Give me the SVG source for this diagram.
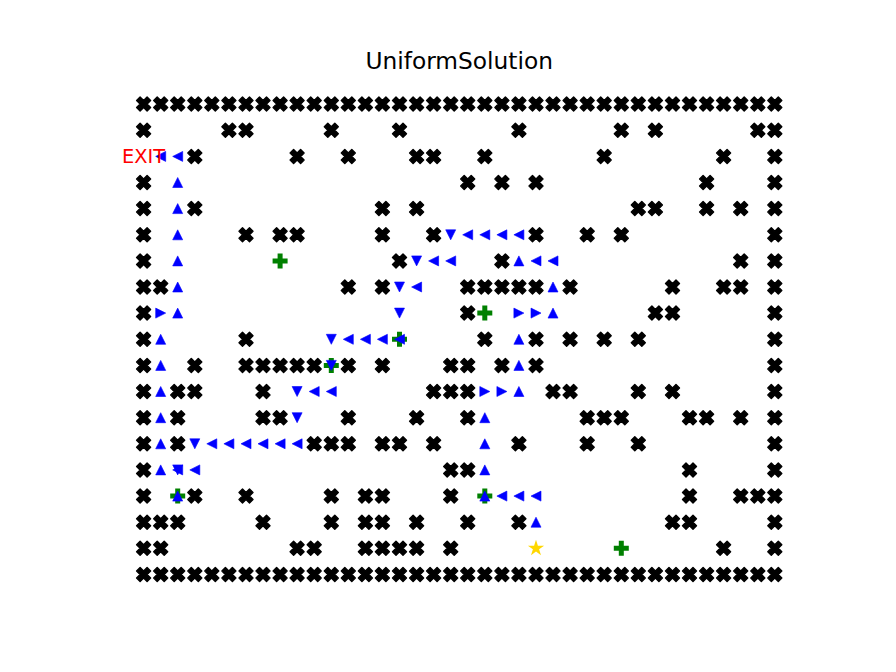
<svg xmlns="http://www.w3.org/2000/svg" xmlns:xlink="http://www.w3.org/1999/xlink" width="896" height="672" viewBox="0 0 896 672">
<style>
.title{font-family:"DejaVu Sans","Liberation Sans",sans-serif;font-size:23.3px;fill:#000;text-anchor:middle}
.exit{font-family:"DejaVu Sans","Liberation Sans",sans-serif;font-size:19.4px;fill:#ff0000;text-anchor:middle}
.wall{fill:#000;stroke:#000;stroke-width:1.4;stroke-linejoin:round}
.arrow{fill:#0000ff;stroke:#0000ff;stroke-width:0.6;stroke-linejoin:miter}
.plus{fill:#008000}
.star{fill:#ffd700}
</style>
<defs>
<path id="w" class="wall" d="M-3.5,-7 L0,-3.5 L3.5,-7 L7,-3.5 L3.5,0 L7,3.5 L3.5,7 L0,3.5 L-3.5,7 L-7,3.5 L-3.5,0 L-7,-3.5 Z"/>
<path id="u" class="arrow" d="M0,-5 L5,5 L-5,5 Z"/>
<path id="d" class="arrow" d="M0,5 L5,-5 L-5,-5 Z"/>
<path id="l" class="arrow" d="M-5,0 L5,-5 L5,5 Z"/>
<path id="r" class="arrow" d="M5,0 L-5,-5 L-5,5 Z"/>
<path id="p" class="plus" d="M-2.5,-7.5 L2.5,-7.5 L2.5,-2.5 L7.5,-2.5 L7.5,2.5 L2.5,2.5 L2.5,7.5 L-2.5,7.5 L-2.5,2.5 L-7.5,2.5 L-7.5,-2.5 L-2.5,-2.5 Z"/>
<path id="s" class="star" d="M0,-8.5 L1.91,-2.63 L8.08,-2.63 L3.09,1.0 L5.0,6.88 L0,3.25 L-5.0,6.88 L-3.09,1.0 L-8.08,-2.63 L-1.91,-2.63 Z"/>
</defs>
<rect width="896" height="672" fill="#ffffff"/>
<text class="title" x="459.2" y="69">UniformSolution</text>
<g id="walls">
<g id="row0">
<use href="#w" x="143.6" y="104.1"/><use href="#w" x="160.7" y="104.1"/><use href="#w" x="177.7" y="104.1"/><use href="#w" x="194.8" y="104.1"/><use href="#w" x="211.8" y="104.1"/><use href="#w" x="228.9" y="104.1"/><use href="#w" x="246.0" y="104.1"/><use href="#w" x="263.0" y="104.1"/><use href="#w" x="280.1" y="104.1"/><use href="#w" x="297.1" y="104.1"/><use href="#w" x="314.2" y="104.1"/><use href="#w" x="331.3" y="104.1"/><use href="#w" x="348.3" y="104.1"/><use href="#w" x="365.4" y="104.1"/><use href="#w" x="382.4" y="104.1"/><use href="#w" x="399.5" y="104.1"/><use href="#w" x="416.6" y="104.1"/><use href="#w" x="433.6" y="104.1"/><use href="#w" x="450.7" y="104.1"/><use href="#w" x="467.7" y="104.1"/><use href="#w" x="484.8" y="104.1"/><use href="#w" x="501.9" y="104.1"/><use href="#w" x="518.9" y="104.1"/><use href="#w" x="536.0" y="104.1"/><use href="#w" x="553.0" y="104.1"/><use href="#w" x="570.1" y="104.1"/><use href="#w" x="587.2" y="104.1"/><use href="#w" x="604.2" y="104.1"/><use href="#w" x="621.3" y="104.1"/><use href="#w" x="638.3" y="104.1"/><use href="#w" x="655.4" y="104.1"/><use href="#w" x="672.5" y="104.1"/><use href="#w" x="689.5" y="104.1"/><use href="#w" x="706.6" y="104.1"/><use href="#w" x="723.6" y="104.1"/><use href="#w" x="740.7" y="104.1"/><use href="#w" x="757.8" y="104.1"/><use href="#w" x="774.8" y="104.1"/>
</g>
<g id="row1">
<use href="#w" x="143.6" y="130.2"/><use href="#w" x="228.9" y="130.2"/><use href="#w" x="246.0" y="130.2"/><use href="#w" x="331.3" y="130.2"/><use href="#w" x="399.5" y="130.2"/><use href="#w" x="518.9" y="130.2"/><use href="#w" x="621.3" y="130.2"/><use href="#w" x="655.4" y="130.2"/><use href="#w" x="757.8" y="130.2"/><use href="#w" x="774.8" y="130.2"/>
</g>
<g id="row2">
<use href="#w" x="194.8" y="156.4"/><use href="#w" x="297.1" y="156.4"/><use href="#w" x="348.3" y="156.4"/><use href="#w" x="416.6" y="156.4"/><use href="#w" x="433.6" y="156.4"/><use href="#w" x="484.8" y="156.4"/><use href="#w" x="604.2" y="156.4"/><use href="#w" x="723.6" y="156.4"/><use href="#w" x="774.8" y="156.4"/>
</g>
<g id="row3">
<use href="#w" x="143.6" y="182.5"/><use href="#w" x="467.7" y="182.5"/><use href="#w" x="501.9" y="182.5"/><use href="#w" x="536.0" y="182.5"/><use href="#w" x="706.6" y="182.5"/><use href="#w" x="774.8" y="182.5"/>
</g>
<g id="row4">
<use href="#w" x="143.6" y="208.6"/><use href="#w" x="194.8" y="208.6"/><use href="#w" x="382.4" y="208.6"/><use href="#w" x="416.6" y="208.6"/><use href="#w" x="638.3" y="208.6"/><use href="#w" x="655.4" y="208.6"/><use href="#w" x="706.6" y="208.6"/><use href="#w" x="740.7" y="208.6"/><use href="#w" x="774.8" y="208.6"/>
</g>
<g id="row5">
<use href="#w" x="143.6" y="234.8"/><use href="#w" x="246.0" y="234.8"/><use href="#w" x="280.1" y="234.8"/><use href="#w" x="297.1" y="234.8"/><use href="#w" x="382.4" y="234.8"/><use href="#w" x="433.6" y="234.8"/><use href="#w" x="536.0" y="234.8"/><use href="#w" x="587.2" y="234.8"/><use href="#w" x="621.3" y="234.8"/><use href="#w" x="774.8" y="234.8"/>
</g>
<g id="row6">
<use href="#w" x="143.6" y="260.9"/><use href="#w" x="399.5" y="260.9"/><use href="#w" x="501.9" y="260.9"/><use href="#w" x="740.7" y="260.9"/><use href="#w" x="774.8" y="260.9"/>
</g>
<g id="row7">
<use href="#w" x="143.6" y="287.0"/><use href="#w" x="160.7" y="287.0"/><use href="#w" x="348.3" y="287.0"/><use href="#w" x="382.4" y="287.0"/><use href="#w" x="467.7" y="287.0"/><use href="#w" x="484.8" y="287.0"/><use href="#w" x="501.9" y="287.0"/><use href="#w" x="518.9" y="287.0"/><use href="#w" x="536.0" y="287.0"/><use href="#w" x="570.1" y="287.0"/><use href="#w" x="672.5" y="287.0"/><use href="#w" x="723.6" y="287.0"/><use href="#w" x="740.7" y="287.0"/><use href="#w" x="774.8" y="287.0"/>
</g>
<g id="row8">
<use href="#w" x="143.6" y="313.1"/><use href="#w" x="467.7" y="313.1"/><use href="#w" x="655.4" y="313.1"/><use href="#w" x="672.5" y="313.1"/><use href="#w" x="774.8" y="313.1"/>
</g>
<g id="row9">
<use href="#w" x="143.6" y="339.3"/><use href="#w" x="246.0" y="339.3"/><use href="#w" x="484.8" y="339.3"/><use href="#w" x="536.0" y="339.3"/><use href="#w" x="570.1" y="339.3"/><use href="#w" x="604.2" y="339.3"/><use href="#w" x="638.3" y="339.3"/><use href="#w" x="774.8" y="339.3"/>
</g>
<g id="row10">
<use href="#w" x="143.6" y="365.4"/><use href="#w" x="194.8" y="365.4"/><use href="#w" x="246.0" y="365.4"/><use href="#w" x="263.0" y="365.4"/><use href="#w" x="280.1" y="365.4"/><use href="#w" x="297.1" y="365.4"/><use href="#w" x="314.2" y="365.4"/><use href="#w" x="348.3" y="365.4"/><use href="#w" x="382.4" y="365.4"/><use href="#w" x="450.7" y="365.4"/><use href="#w" x="467.7" y="365.4"/><use href="#w" x="501.9" y="365.4"/><use href="#w" x="536.0" y="365.4"/><use href="#w" x="774.8" y="365.4"/>
</g>
<g id="row11">
<use href="#w" x="143.6" y="391.5"/><use href="#w" x="177.7" y="391.5"/><use href="#w" x="194.8" y="391.5"/><use href="#w" x="263.0" y="391.5"/><use href="#w" x="433.6" y="391.5"/><use href="#w" x="450.7" y="391.5"/><use href="#w" x="467.7" y="391.5"/><use href="#w" x="553.0" y="391.5"/><use href="#w" x="570.1" y="391.5"/><use href="#w" x="638.3" y="391.5"/><use href="#w" x="672.5" y="391.5"/><use href="#w" x="774.8" y="391.5"/>
</g>
<g id="row12">
<use href="#w" x="143.6" y="417.7"/><use href="#w" x="177.7" y="417.7"/><use href="#w" x="263.0" y="417.7"/><use href="#w" x="280.1" y="417.7"/><use href="#w" x="348.3" y="417.7"/><use href="#w" x="416.6" y="417.7"/><use href="#w" x="467.7" y="417.7"/><use href="#w" x="587.2" y="417.7"/><use href="#w" x="604.2" y="417.7"/><use href="#w" x="621.3" y="417.7"/><use href="#w" x="689.5" y="417.7"/><use href="#w" x="706.6" y="417.7"/><use href="#w" x="740.7" y="417.7"/><use href="#w" x="774.8" y="417.7"/>
</g>
<g id="row13">
<use href="#w" x="143.6" y="443.8"/><use href="#w" x="177.7" y="443.8"/><use href="#w" x="314.2" y="443.8"/><use href="#w" x="331.3" y="443.8"/><use href="#w" x="348.3" y="443.8"/><use href="#w" x="382.4" y="443.8"/><use href="#w" x="399.5" y="443.8"/><use href="#w" x="433.6" y="443.8"/><use href="#w" x="518.9" y="443.8"/><use href="#w" x="587.2" y="443.8"/><use href="#w" x="638.3" y="443.8"/><use href="#w" x="774.8" y="443.8"/>
</g>
<g id="row14">
<use href="#w" x="143.6" y="469.9"/><use href="#w" x="450.7" y="469.9"/><use href="#w" x="467.7" y="469.9"/><use href="#w" x="689.5" y="469.9"/><use href="#w" x="774.8" y="469.9"/>
</g>
<g id="row15">
<use href="#w" x="143.6" y="496.1"/><use href="#w" x="194.8" y="496.1"/><use href="#w" x="246.0" y="496.1"/><use href="#w" x="331.3" y="496.1"/><use href="#w" x="365.4" y="496.1"/><use href="#w" x="382.4" y="496.1"/><use href="#w" x="450.7" y="496.1"/><use href="#w" x="689.5" y="496.1"/><use href="#w" x="740.7" y="496.1"/><use href="#w" x="757.8" y="496.1"/><use href="#w" x="774.8" y="496.1"/>
</g>
<g id="row16">
<use href="#w" x="143.6" y="522.2"/><use href="#w" x="160.7" y="522.2"/><use href="#w" x="177.7" y="522.2"/><use href="#w" x="263.0" y="522.2"/><use href="#w" x="331.3" y="522.2"/><use href="#w" x="365.4" y="522.2"/><use href="#w" x="382.4" y="522.2"/><use href="#w" x="416.6" y="522.2"/><use href="#w" x="467.7" y="522.2"/><use href="#w" x="518.9" y="522.2"/><use href="#w" x="672.5" y="522.2"/><use href="#w" x="689.5" y="522.2"/><use href="#w" x="774.8" y="522.2"/>
</g>
<g id="row17">
<use href="#w" x="143.6" y="548.3"/><use href="#w" x="160.7" y="548.3"/><use href="#w" x="297.1" y="548.3"/><use href="#w" x="314.2" y="548.3"/><use href="#w" x="365.4" y="548.3"/><use href="#w" x="382.4" y="548.3"/><use href="#w" x="399.5" y="548.3"/><use href="#w" x="416.6" y="548.3"/><use href="#w" x="450.7" y="548.3"/><use href="#w" x="723.6" y="548.3"/><use href="#w" x="774.8" y="548.3"/>
</g>
<g id="row18">
<use href="#w" x="143.6" y="574.4"/><use href="#w" x="160.7" y="574.4"/><use href="#w" x="177.7" y="574.4"/><use href="#w" x="194.8" y="574.4"/><use href="#w" x="211.8" y="574.4"/><use href="#w" x="228.9" y="574.4"/><use href="#w" x="246.0" y="574.4"/><use href="#w" x="263.0" y="574.4"/><use href="#w" x="280.1" y="574.4"/><use href="#w" x="297.1" y="574.4"/><use href="#w" x="314.2" y="574.4"/><use href="#w" x="331.3" y="574.4"/><use href="#w" x="348.3" y="574.4"/><use href="#w" x="365.4" y="574.4"/><use href="#w" x="382.4" y="574.4"/><use href="#w" x="399.5" y="574.4"/><use href="#w" x="416.6" y="574.4"/><use href="#w" x="433.6" y="574.4"/><use href="#w" x="450.7" y="574.4"/><use href="#w" x="467.7" y="574.4"/><use href="#w" x="484.8" y="574.4"/><use href="#w" x="501.9" y="574.4"/><use href="#w" x="518.9" y="574.4"/><use href="#w" x="536.0" y="574.4"/><use href="#w" x="553.0" y="574.4"/><use href="#w" x="570.1" y="574.4"/><use href="#w" x="587.2" y="574.4"/><use href="#w" x="604.2" y="574.4"/><use href="#w" x="621.3" y="574.4"/><use href="#w" x="638.3" y="574.4"/><use href="#w" x="655.4" y="574.4"/><use href="#w" x="672.5" y="574.4"/><use href="#w" x="689.5" y="574.4"/><use href="#w" x="706.6" y="574.4"/><use href="#w" x="723.6" y="574.4"/><use href="#w" x="740.7" y="574.4"/><use href="#w" x="757.8" y="574.4"/><use href="#w" x="774.8" y="574.4"/>
</g>
</g>
<g id="items">
<use href="#p" x="280.1" y="260.9"/><use href="#p" x="484.8" y="313.1"/><use href="#p" x="399.5" y="339.3"/><use href="#p" x="331.3" y="365.4"/><use href="#p" x="177.7" y="496.1"/><use href="#p" x="484.8" y="496.1"/><use href="#p" x="621.3" y="548.3"/>
</g>
<g id="start"><use href="#s" x="536.0" y="548.3"/></g>
<g id="path">
<use href="#u" x="177.7" y="182.5"/><use href="#u" x="177.7" y="208.6"/><use href="#u" x="177.7" y="234.8"/><use href="#u" x="177.7" y="260.9"/><use href="#u" x="177.7" y="287.0"/><use href="#u" x="177.7" y="313.1"/><use href="#u" x="160.7" y="339.3"/><use href="#u" x="160.7" y="365.4"/><use href="#u" x="160.7" y="391.5"/><use href="#u" x="160.7" y="417.7"/><use href="#u" x="160.7" y="443.8"/><use href="#u" x="160.7" y="469.9"/><use href="#u" x="177.7" y="496.1"/><use href="#u" x="518.9" y="260.9"/><use href="#u" x="553.0" y="287.0"/><use href="#u" x="553.0" y="313.1"/><use href="#u" x="518.9" y="339.3"/><use href="#u" x="518.9" y="365.4"/><use href="#u" x="518.9" y="391.5"/><use href="#u" x="484.8" y="417.7"/><use href="#u" x="484.8" y="443.8"/><use href="#u" x="484.8" y="469.9"/><use href="#u" x="484.8" y="496.1"/><use href="#u" x="536.0" y="522.2"/>
<use href="#l" x="160.7" y="156.4"/><use href="#l" x="177.7" y="156.4"/><use href="#l" x="467.7" y="234.8"/><use href="#l" x="484.8" y="234.8"/><use href="#l" x="501.9" y="234.8"/><use href="#l" x="518.9" y="234.8"/><use href="#l" x="433.6" y="260.9"/><use href="#l" x="450.7" y="260.9"/><use href="#l" x="536.0" y="260.9"/><use href="#l" x="553.0" y="260.9"/><use href="#l" x="416.6" y="287.0"/><use href="#l" x="348.3" y="339.3"/><use href="#l" x="365.4" y="339.3"/><use href="#l" x="382.4" y="339.3"/><use href="#l" x="399.5" y="339.3"/><use href="#l" x="314.2" y="391.5"/><use href="#l" x="331.3" y="391.5"/><use href="#l" x="211.8" y="443.8"/><use href="#l" x="228.9" y="443.8"/><use href="#l" x="246.0" y="443.8"/><use href="#l" x="263.0" y="443.8"/><use href="#l" x="280.1" y="443.8"/><use href="#l" x="297.1" y="443.8"/><use href="#l" x="177.7" y="469.9"/><use href="#l" x="194.8" y="469.9"/><use href="#l" x="501.9" y="496.1"/><use href="#l" x="518.9" y="496.1"/><use href="#l" x="536.0" y="496.1"/>
<use href="#d" x="450.7" y="234.8"/><use href="#d" x="416.6" y="260.9"/><use href="#d" x="399.5" y="287.0"/><use href="#d" x="399.5" y="313.1"/><use href="#d" x="331.3" y="339.3"/><use href="#d" x="331.3" y="365.4"/><use href="#d" x="297.1" y="391.5"/><use href="#d" x="297.1" y="417.7"/><use href="#d" x="194.8" y="443.8"/><use href="#d" x="177.7" y="469.9"/>
<use href="#r" x="160.7" y="313.1"/><use href="#r" x="518.9" y="313.1"/><use href="#r" x="536.0" y="313.1"/><use href="#r" x="484.8" y="391.5"/><use href="#r" x="501.9" y="391.5"/>
</g>
<text class="exit" x="143.6" y="162.5">EXIT</text>
</svg>
